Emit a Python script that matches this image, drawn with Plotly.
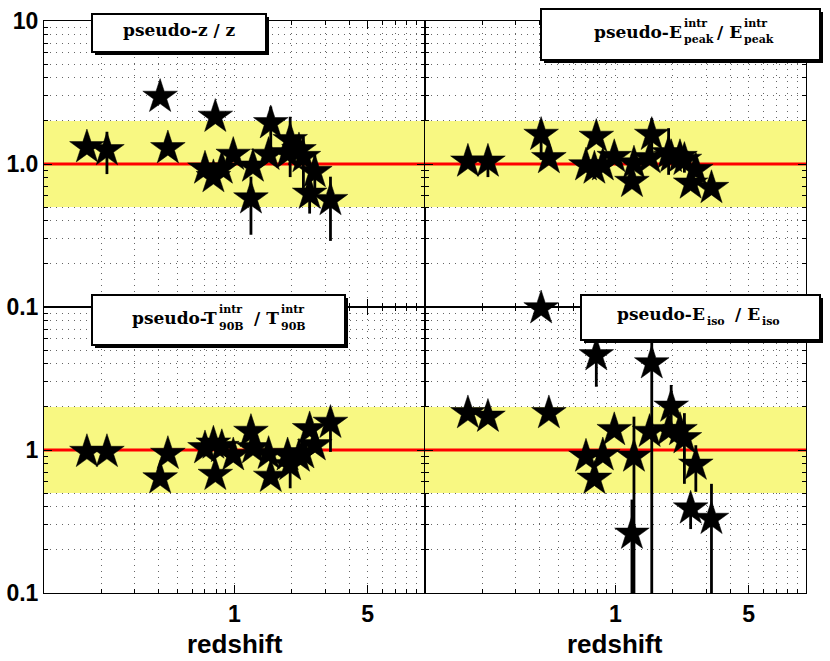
import plotly.graph_objects as go
from plotly.subplots import make_subplots

# ---------------- data ----------------
redshift = [0.168, 0.214, 0.407, 0.447, 0.70, 0.775, 0.793, 0.858, 0.985, 1.22,
            1.25, 1.51, 1.55, 1.90, 1.96, 2.18, 2.30, 2.48, 2.64, 3.19]

# pseudo-z / z
ratio_z = [1.31, 1.25, 2.95, 1.29, 0.93, 0.81, 2.14, 0.93, 1.16, 0.575,
           0.96, 1.16, 1.93, 1.19, 1.47, 1.25, 1.12, 0.62, 0.88, 0.56]
ratio_z_lo = [1.31, 0.85, 2.95, 1.29, 0.93, 0.81, 2.14, 0.93, 1.16, 0.32,
              0.96, 1.16, 1.25, 1.19, 0.81, 1.25, 0.66, 0.45, 0.66, 0.29]
ratio_z_hi = [1.31, 1.68, 2.95, 1.29, 0.93, 0.81, 2.14, 0.93, 1.16, 0.815,
              0.96, 1.16, 2.52, 1.19, 2.14, 1.25, 1.55, 0.77, 1.16, 0.815]

# pseudo-Epeak / Epeak
ratio_ep = [1.04, 1.04, 1.60, 1.10, 0.98, 0.93, 1.55, 0.98, 1.12, 0.75,
            1.01, 1.10, 1.60, 1.19, 1.12, 1.12, 1.07, 0.73, 0.91, 0.68]
ratio_ep_lo = [1.04, 0.81, 1.07, 1.10, 0.98, 0.93, 1.55, 0.98, 1.12, 0.75,
               1.01, 1.10, 1.20, 0.84, 1.12, 1.12, 0.87, 0.73, 0.91, 0.68]
ratio_ep_hi = [1.04, 1.29, 1.97, 1.10, 0.98, 0.93, 1.55, 0.98, 1.12, 0.75,
               1.01, 1.10, 2.09, 1.78, 1.12, 1.12, 1.21, 0.73, 0.91, 0.68]

# pseudo-T90B / T90B
ratio_t90 = [0.97, 0.97, 0.634, 0.94, 1.03, 1.11, 0.67, 1.05, 0.92, 1.34,
             1.03, 0.94, 0.65, 0.92, 0.785, 0.90, 0.95, 1.40, 1.08, 1.55]
ratio_t90_lo = [0.97, 0.97, 0.634, 0.94, 1.03, 1.11, 0.67, 1.05, 0.92, 1.34,
                1.03, 0.94, 0.65, 0.92, 0.54, 0.90, 0.82, 1.40, 1.08, 0.97]
ratio_t90_hi = [0.97, 0.97, 0.634, 0.94, 1.03, 1.11, 0.67, 1.05, 0.92, 1.34,
                1.03, 0.94, 0.65, 0.92, 0.95, 0.90, 1.05, 1.40, 1.08, 1.75]

# pseudo-Eiso / Eiso
ratio_eiso = [1.81, 1.71, 9.8, 1.81, 0.90, 0.63, 4.6, 0.92, 1.38, 0.26,
              0.90, 1.34, 4.04, 1.38, 2.01, 1.38, 1.21, 0.39, 0.79, 0.33]
ratio_eiso_lo = [1.81, 1.71, 9.8, 1.81, 0.90, 0.63, 2.77, 0.92, 1.38, 0.03,
                 0.03, 1.34, 0.03, 1.38, 1.38, 1.38, 0.58, 0.28, 0.51, 0.03]
ratio_eiso_hi = [1.81, 1.71, 9.8, 1.81, 0.90, 0.63, 7.0, 0.92, 1.38, 0.45,
                 1.71, 1.34, 9.0, 1.38, 2.85, 1.38, 1.81, 0.45, 1.08, 0.58]

x_min, x_max = 0.1, 10.0
band_lo, band_hi = 0.5, 2.0
unity = 1.0

x_tickvals = [1, 5]
x_ticktext = ["1", "5"]
x_minor = [0.2, 0.3, 0.4, 0.5, 0.6, 0.7, 0.8, 0.9, 2, 3, 4, 6, 7, 8, 9]
y_minor = [0.2, 0.3, 0.4, 0.5, 0.6, 0.7, 0.8, 0.9, 2, 3, 4, 5, 6, 7, 8, 9]
y_top_tickvals = [0.1, 1, 10]
y_top_ticktext = ["0.1", "1.0", "10"]
y_bot_tickvals = [0.1, 1]
y_bot_ticktext = ["0.1", "1"]

# ---------------- figure ----------------
W, H = 830, 661
L, R, T, B = 44, 24, 21, 68
PX0, PX1, PY0, PY1 = L, W - R, T, H - B


def px(x):
    return (x - PX0) / (PX1 - PX0)


def py(y):
    return (PY1 - y) / (PY1 - PY0)


fig = make_subplots(rows=2, cols=2, horizontal_spacing=0, vertical_spacing=0)

panels = [
    (1, 1, ratio_z, ratio_z_lo, ratio_z_hi),
    (1, 2, ratio_ep, ratio_ep_lo, ratio_ep_hi),
    (2, 1, ratio_t90, ratio_t90_lo, ratio_t90_hi),
    (2, 2, ratio_eiso, ratio_eiso_lo, ratio_eiso_hi),
]

for (r, c, val, lo, hi) in panels:
    # yellow band
    fig.add_trace(go.Scatter(
        x=[x_min, x_max, x_max, x_min, x_min],
        y=[band_lo, band_lo, band_hi, band_hi, band_lo],
        mode="lines", fill="toself", fillcolor="#f8f882",
        line=dict(width=0, color="#f8f882"), hoverinfo="skip"), row=r, col=c)
    # unity line
    fig.add_trace(go.Scatter(
        x=[x_min, x_max], y=[unity, unity], mode="lines",
        line=dict(color="#ff0000", width=3.2), hoverinfo="skip"), row=r, col=c)
    plus = [h - v for v, h in zip(val, hi)]
    minus = [v - l for v, l in zip(val, lo)]
    # error bars (clipped to the panel)
    fig.add_trace(go.Scatter(
        x=redshift, y=val, mode="markers",
        marker=dict(size=2, color="rgba(0,0,0,0)"),
        error_y=dict(type="data", symmetric=False, array=plus, arrayminus=minus,
                     color="black", thickness=2.8, width=0),
        hoverinfo="skip"), row=r, col=c)
    # stars
    fig.add_trace(go.Scatter(
        x=redshift, y=val, mode="markers", cliponaxis=False,
        marker=dict(symbol="star", size=26, color="black",
                    line=dict(width=0.5, color="black"))), row=r, col=c)

grid_col = "#666666"
grid_dash = "1px,5px"
tick_font = dict(family="Liberation Sans, Arial, sans-serif", size=23, color="black", weight="bold")

for r in (1, 2):
    for c in (1, 2):
        fig.update_xaxes(type="log", range=[-1, 1], showline=True, linecolor="black",
                         linewidth=1, mirror="ticks", ticks="inside", ticklen=8,
                         tickcolor="black", tickvals=x_tickvals, ticktext=x_ticktext,
                         showticklabels=(r == 2), tickfont=tick_font, automargin=False,
                         showgrid=True, gridcolor=grid_col, griddash=grid_dash, gridwidth=1,
                         zeroline=False,
                         minor=dict(tickvals=x_minor, showgrid=True, gridcolor=grid_col,
                                    griddash=grid_dash, gridwidth=1, ticks="inside",
                                    ticklen=4, tickcolor="black"),
                         row=r, col=c)
        fig.update_yaxes(type="log", range=[-1, 1], showline=True, linecolor="black",
                         linewidth=1, mirror="ticks", ticks="inside", ticklen=8,
                         tickcolor="black", automargin=False,
                         tickvals=y_top_tickvals if r == 1 else y_bot_tickvals,
                         ticktext=y_top_ticktext if r == 1 else y_bot_ticktext,
                         showticklabels=(c == 1), tickfont=tick_font,
                         showgrid=True, gridcolor=grid_col, griddash=grid_dash, gridwidth=1,
                         zeroline=False,
                         minor=dict(tickvals=y_minor, showgrid=True, gridcolor=grid_col,
                                    griddash=grid_dash, gridwidth=1, ticks="inside",
                                    ticklen=4, tickcolor="black"),
                         row=r, col=c)

# label boxes (pixel rectangles)
shapes = []
boxes = [(92, 14, 266, 52), (541, 9, 820, 60), (92, 295, 345, 345), (581, 295, 820, 340)]
for (x0, y0, x1, y1) in boxes:
    shapes.append(dict(type="rect", xref="paper", yref="paper",
                       x0=px(x0 + 3), x1=px(x1 + 3), y0=py(y0 + 3), y1=py(y1 + 3),
                       fillcolor="black", line=dict(width=0), layer="above"))
    shapes.append(dict(type="rect", xref="paper", yref="paper",
                       x0=px(x0), x1=px(x1), y0=py(y0), y1=py(y1),
                       fillcolor="white", line=dict(color="black", width=2), layer="above"))

serif = "DejaVu Serif, serif"
annotations = []


def txt(x, baseline, text, size, anchor="left"):
    annotations.append(dict(xref="paper", yref="paper", x=px(x), y=py(baseline - 0.33 * size),
                            xanchor=anchor, yanchor="middle", text=text, showarrow=False,
                            borderpad=0,
                            font=dict(family=serif, size=size, color="black", weight="bold")))


MAIN, SMALL = 17, 11
# top-left
txt(179.5, 36, "pseudo-z / z", MAIN, anchor="center")
# top-right
txt(683, 38, "pseudo-E", MAIN, anchor="right")
txt(683, 27, "intr", SMALL)
txt(683, 43.5, "peak", SMALL)
txt(743, 38, "/ E", MAIN, anchor="right")
txt(743, 27, "intr", SMALL)
txt(743, 43.5, "peak", SMALL)
# bottom-left
txt(218, 323.5, "pseudo-T", MAIN, anchor="right")
txt(218, 313, "intr", SMALL)
txt(218, 330, "90B", SMALL)
txt(280, 323.5, "/ T", MAIN, anchor="right")
txt(280, 313, "intr", SMALL)
txt(280, 330, "90B", SMALL)
# bottom-right
txt(706, 319.5, "pseudo-E", MAIN, anchor="right")
txt(706, 325.5, "iso", SMALL)
txt(761, 319.5, "/ E", MAIN, anchor="right")
txt(761, 325.5, "iso", SMALL)

# x titles
for xc in (234.5, 615):
    annotations.append(dict(xref="paper", yref="paper", x=px(xc), y=py(644),
                            xanchor="center", yanchor="middle", text="redshift",
                            showarrow=False,
                            font=dict(family="Liberation Sans, Arial, sans-serif", size=26,
                                      color="black", weight="bold")))

fig.update_layout(width=W, height=H, margin=dict(l=L, r=R, t=T, b=B),
                  plot_bgcolor="white", paper_bgcolor="white", showlegend=False,
                  shapes=shapes, annotations=annotations)

fig.write_html("out.html", config={"displayModeBar": False},
               post_script="document.body.style.margin='0';document.body.style.padding='0';")
